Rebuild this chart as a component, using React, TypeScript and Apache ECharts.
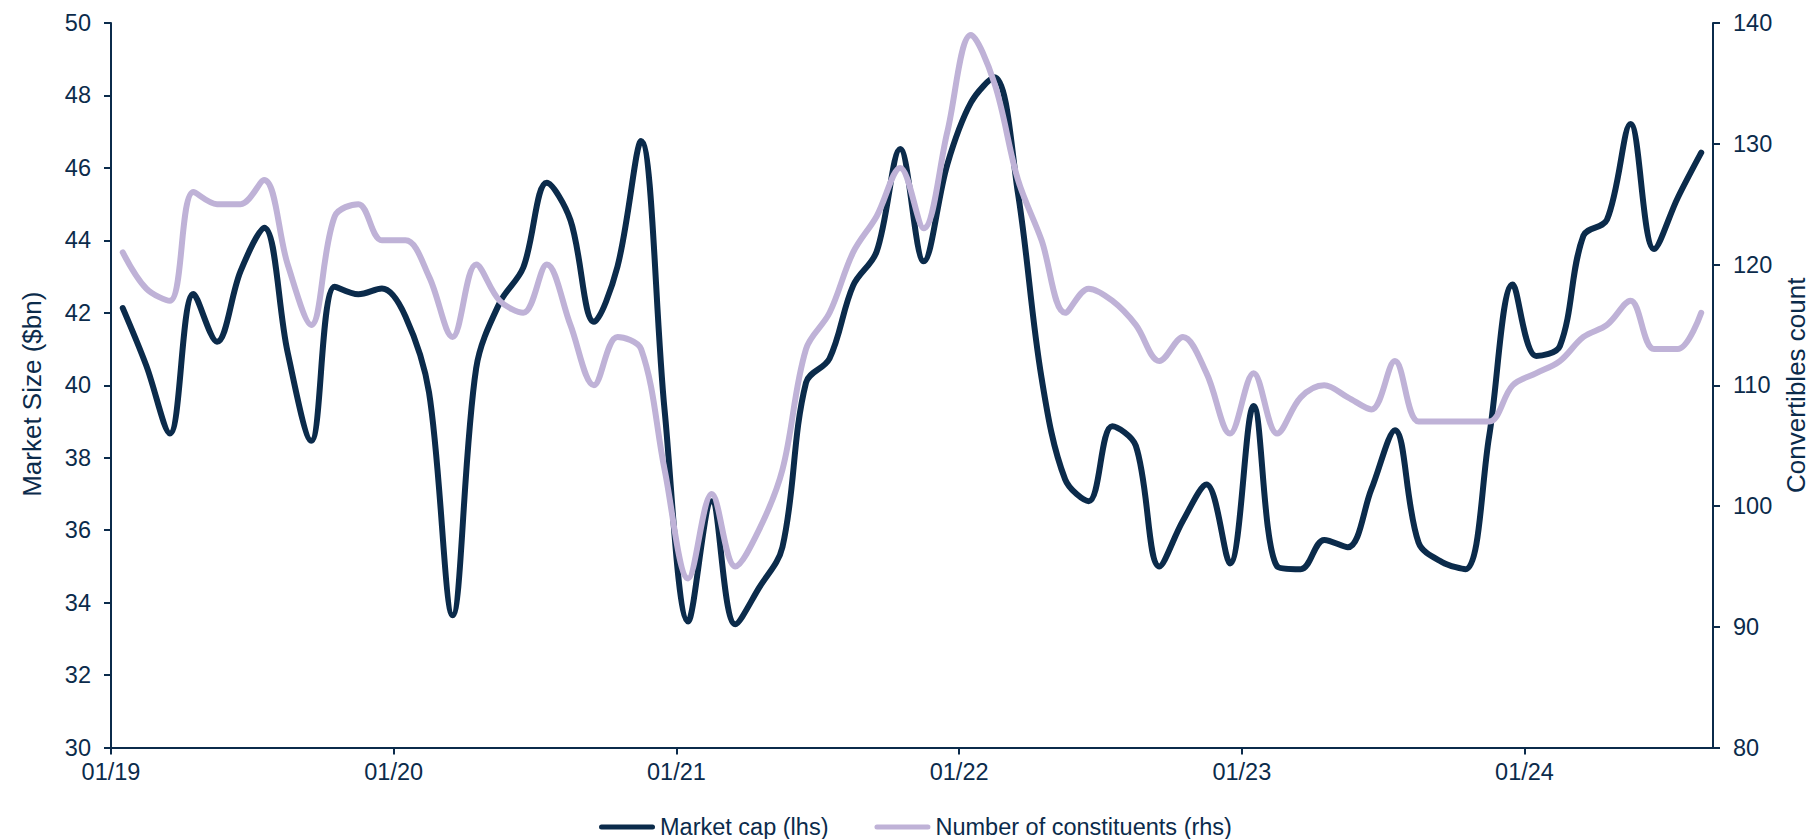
import React, { useEffect, useRef } from 'react';
import * as echarts from 'echarts';

// Monthly observations, 01/19 through 08/24 (68 months)
const monthCount = 68;
const yearTicks = [0, 12, 24, 36, 48, 60];
const yearLabels = ['01/19', '01/20', '01/21', '01/22', '01/23', '01/24'];

// Market cap, $bn (left axis)
const marketCap = [
  42.13, 40.54, 38.67, 42.52, 41.2, 43.15, 44.35, 40.9, 38.47, 42.72, 42.51, 42.67,
  41.9, 39.8, 33.65, 40.47, 42.28, 43.25, 45.59, 44.56, 41.75, 43.28, 46.74, 39.3,
  33.48, 36.8, 33.4, 34.4, 35.53, 40.07, 40.74, 42.75, 43.69, 46.52, 43.42, 46.1,
  47.8, 48.5, 45.29, 40.2, 37.4, 36.8, 38.87, 38.33, 35.0, 36.26, 37.26, 35.08,
  39.43, 35.0, 34.92, 35.73, 35.53, 37.13, 38.76, 35.66, 35.12, 34.92, 38.6, 42.78,
  40.81, 41.08, 44.13, 44.57, 47.21, 43.76, 45.17, 46.42,
];

// Number of index constituents (right axis)
const constituents = [
  121, 118, 117, 126, 125, 125, 127, 120, 115, 124, 125, 122,
  122, 119, 114, 120, 117, 116, 120, 115, 110, 114, 113, 103,
  94, 101, 95, 98, 103, 113, 116, 121, 124, 128, 123, 131,
  139, 135, 127, 122, 116, 118, 117, 115, 112, 114, 111, 106,
  111, 106, 109, 110, 109, 108, 112, 107, 107, 107, 107, 110,
  111, 112, 114, 115, 117, 113, 113, 116,
];

const NAVY = '#0b2b4b';
const LAVENDER = '#bfb2d7';
const FONT = 'Arial, "Liberation Sans", sans-serif';

export default function App() {
  const ref = useRef<HTMLDivElement>(null);

  useEffect(() => {
    if (!ref.current) return;
    const chart = echarts.init(ref.current, null, { renderer: 'svg' });

    const axisLine = { show: true, lineStyle: { color: NAVY, width: 2 } };
    const axisTick = { show: true, length: 7, lineStyle: { color: NAVY, width: 2 } };
    const labelStyle = { color: NAVY, fontSize: 23.5, fontFamily: FONT };
    const nameStyle = { color: NAVY, fontSize: 26, fontFamily: FONT };

    chart.setOption({
      animation: false,
      backgroundColor: '#ffffff',
      grid: {
        left: 111,
        right: 101,
        top: 23,
        bottom: 91.5,
        containLabel: false,
        outerBoundsMode: 'none',
      },
      legend: {
        left: 599,
        top: 815,
        padding: 0,
        itemWidth: 56,
        itemHeight: 5,
        itemGap: 46,
        icon: 'path://M2.5,0 H53.5 A2.5,2.5 0 0 1 53.5,5 H2.5 A2.5,2.5 0 0 1 2.5,0 Z',
        textStyle: { color: NAVY, fontSize: 23.5, fontFamily: FONT },
        data: ['Market cap (lhs)', 'Number of constituents (rhs)'],
      },
      xAxis: {
        type: 'value',
        min: 0,
        max: monthCount,
        axisLine,
        axisTick: { ...axisTick, customValues: yearTicks },
        axisLabel: {
          ...labelStyle,
          margin: 12,
          customValues: yearTicks,
          formatter: (v: number) => yearLabels[Math.round(v / 12)] ?? '',
        },
        splitLine: { show: false },
      },
      yAxis: [
        {
          type: 'value',
          position: 'left',
          min: 30,
          max: 50,
          interval: 2,
          name: 'Market Size ($bn)',
          nameLocation: 'middle',
          nameGap: 66,
          nameTextStyle: { ...nameStyle, padding: [0, 18, 0, 0] },
          axisLine,
          axisTick,
          axisLabel: { ...labelStyle, margin: 20 },
          splitLine: { show: false },
        },
        {
          type: 'value',
          position: 'right',
          min: 80,
          max: 140,
          interval: 10,
          name: 'Convertibles count',
          nameLocation: 'middle',
          nameGap: 70,
          nameTextStyle: nameStyle,
          axisLine,
          axisTick,
          axisLabel: { ...labelStyle, margin: 20 },
          splitLine: { show: false },
        },
      ],
      series: [
        {
          name: 'Market cap (lhs)',
          type: 'line',
          yAxisIndex: 0,
          smooth: 0.35,
          symbol: 'none',
          color: NAVY,
          lineStyle: { color: NAVY, width: 6, cap: 'round', join: 'round' },
          data: marketCap.map((v, i) => [i + 0.5, v]),
        },
        {
          name: 'Number of constituents (rhs)',
          type: 'line',
          yAxisIndex: 1,
          smooth: 0.35,
          symbol: 'none',
          color: LAVENDER,
          lineStyle: { color: LAVENDER, width: 6, cap: 'round', join: 'round' },
          data: constituents.map((v, i) => [i + 0.5, v]),
        },
      ],
    });

    return () => chart.dispose();
  }, []);

  return (
    <div
      ref={ref}
      style={{ position: 'fixed', left: 0, top: 0, width: 1814, height: 839, background: '#fff' }}
    />
  );
}
